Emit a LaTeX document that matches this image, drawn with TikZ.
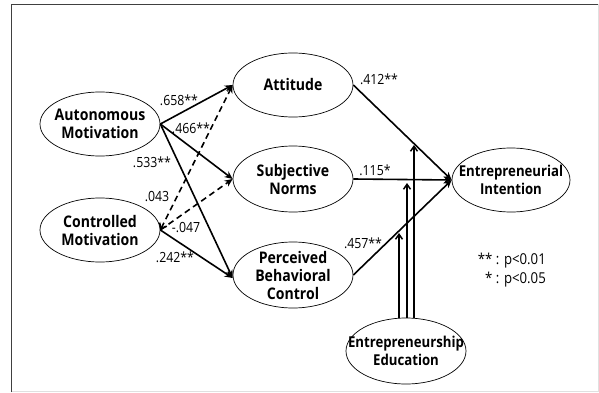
\documentclass[tikz,border=0pt]{standalone}
\usepackage{fontspec}
\setmainfont{Open Sans}
\newfontfamily\narrowsans[FakeStretch=0.88]{Open Sans}
\usetikzlibrary{arrows.meta, shapes.geometric}

\begin{document}
\begin{tikzpicture}[x=1pt, y=-1pt,
    construct/.style={ellipse, draw, line width=0.7pt, minimum width=120pt, minimum height=64pt, inner sep=0pt},
    cname/.style={font=\narrowsans\fontsize{16}{18}\selectfont\bfseries, align=center, inner sep=0pt},
    effect/.style={line width=1.6pt, -{Stealth[length=8pt, width=7pt]}},
    nseffect/.style={effect, dash pattern=on 6pt off 4pt},
    coef/.style={font=\narrowsans\fontsize{14}{15}\selectfont, inner sep=0pt},
    moderate/.style={line width=1.5pt, -{Straight Barb[length=5pt, width=7pt]}}]
    \useasboundingbox (0,0) rectangle (599,393);
    % frame
    \draw[black!75, line width=1pt] (11.5,392) -- (11.5,4.5) -- (598,4.5);
    \draw[black!12, line width=1pt] (598,4.5) -- (598,391) -- (11.5,391);
    % constructs
    \node[construct, label={[cname]center:Autonomous\\Motivation}] (am) at (100,124) {};
    \node[construct, label={[cname]center:Controlled\\Motivation}] (cm) at (100,230) {};
    \node[construct, label={[cname]center:Attitude}] (att) at (293,85) {};
    \node[construct, minimum height=66pt, label={[cname]center:Subjective\\Norms}] (sn) at (293,179) {};
    \node[construct, minimum height=66pt, label={[cname]center:Perceived\\Behavioral\\Control}] (pbc) at (293,275) {};
    \node[construct, minimum width=118pt, label={[cname, font=\narrowsans\fontsize{15}{18}\selectfont\bfseries]center:Entrepreneurial\\Intention}] (ei) at (511,180) {};
    \node[construct, minimum height=66pt, label={[cname, font=\narrowsans\fontsize{15}{18}\selectfont\bfseries]center:Entrepreneurship\\Education}] (ee) at (406,351) {};
    % motivation paths
    \draw[effect] (am.east) -- (att.west);
    \draw[effect] (am.east) -- (sn.west);
    \draw[effect] (am.east) -- ([yshift=-3pt]pbc.west);
    \draw[effect] (cm.east) -- ([yshift=-3pt]pbc.west);
    \draw[nseffect, {Straight Barb[length=5pt, width=8pt]}-{Stealth[length=8pt, width=7pt]}] (cm.east) -- (att.west);
    \draw[nseffect] (cm.east) -- (sn.west);
    % paths to intention
    \draw[effect] (att.east) -- (ei.west);
    \draw[effect] (sn.east) -- (ei.west);
    \draw[effect] (pbc.east) -- (ei.west);
    % moderation
    \coordinate (mpbc) at (399,233);
    \coordinate (msn) at (407,183);
    \coordinate (matt) at (414,145);
    \draw[moderate] (mpbc |- ee.north) -- (mpbc);
    \draw[moderate] (msn |- ee.north) -- (msn);
    \draw[moderate] (matt |- ee.north) -- (matt);
    % coefficients
    \node[coef] (c1) at (179,100) {.658**};
    \node[coef] (c2) at (191,128) {.466**};
    \node[coef] (c3) at (152,162) {.533**};
    \node[coef] (c4) at (157,197) {.043};
    \node[coef] (c5) at (186,228) {-.047};
    \node[coef] (c6) at (175,257) {.242**};
    \node[coef] (c7) at (379,79) {.412**};
    \node[coef] (c8) at (375,170) {.115*};
    \node[coef] (c9) at (363,243) {.457**};
    \node[coef, align=right, anchor=east, font=\narrowsans\fontsize{15}{19}\selectfont] (legend) at (546,270) {** : p<0.01\\* : p<0.05};
\end{tikzpicture}
\end{document}
